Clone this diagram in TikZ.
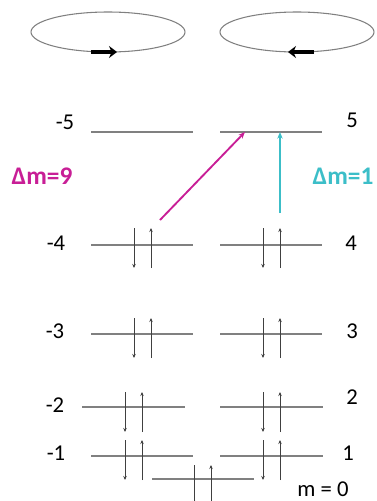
\documentclass[tikz,border=0pt]{standalone}
\usepackage{fontspec}
\setmainfont{Carlito}
\usetikzlibrary{arrows.meta}
\definecolor{magline}{RGB}{200,30,150}
\definecolor{cyanline}{RGB}{60,190,200}
\tikzset{level/.style={draw=gray,line width=.9pt},
  spin/.style={draw=black!75,line width=.6pt,-{Stealth[length=3pt,width=2.6pt]}},
  lab/.style={font=\fontsize{17}{20}\selectfont,inner sep=0pt},
  dlab/.style={font=\fontsize{19}{22}\selectfont\bfseries,inner sep=0pt}}

\begin{document}
\begin{tikzpicture}[x=.75pt,y=-.75pt,line width=.35pt]
\useasboundingbox (0,0) rectangle (376,501);
% orbits
\draw[gray,line width=.8pt] (108,32) ellipse [x radius=77,y radius=20];
\draw[gray,line width=.8pt] (297,32) ellipse [x radius=77,y radius=20];
\coordinate (o1a) at (91,52);\coordinate (o1b) at (117,52);
\coordinate (o2a) at (314,52);\coordinate (o2b) at (288,52);
\draw[line width=2.6pt,-{Stealth[length=6pt,width=9pt]}] (o1a)--(o1b);
\draw[line width=2.6pt,-{Stealth[length=6pt,width=9pt]}] (o2a)--(o2b);
% levels
\coordinate (L5a) at (91,132);\coordinate (L5b) at (193,132);\coordinate (R5a) at (220,132);\coordinate (R5b) at (322,132);
\coordinate (L4a) at (91,245);\coordinate (L4b) at (193,245);\coordinate (R4a) at (220,245);\coordinate (R4b) at (322,245);
\coordinate (L3a) at (91,334);\coordinate (L3b) at (193,334);\coordinate (R3a) at (220,334);\coordinate (R3b) at (322,334);
\coordinate (L2a) at (82,407);\coordinate (L2b) at (185,407);\coordinate (R2a) at (220,407);\coordinate (R2b) at (323,407);
\coordinate (L1a) at (91,456);\coordinate (L1b) at (193,456);\coordinate (R1a) at (220,456);\coordinate (R1b) at (323,456);
\coordinate (M0a) at (152,479);\coordinate (M0b) at (254,479);
\draw[level] (L5a)--(L5b);\draw[level] (R5a)--(R5b);
\draw[level] (L4a)--(L4b);\draw[level] (R4a)--(R4b);
\draw[level] (L3a)--(L3b);\draw[level] (R3a)--(R3b);
\draw[level] (L2a)--(L2b);\draw[level] (R2a)--(R2b);
\draw[level] (L1a)--(L1b);\draw[level] (R1a)--(R1b);
\draw[level] (M0a)--(M0b);
% electron pairs
\foreach \x/\y in {134/228,263/228,134/318,263/318,125/392,263/392,125/440,263/440,194/465}
  {\draw[spin] (\x,\y)--(\x,\y+40); \draw[spin] (\x+17,\y+40)--(\x+17,\y);}
% transitions
\coordinate (d9a) at (160,220);\coordinate (d9b) at (245,132);
\coordinate (d1a) at (280,213);\coordinate (d1b) at (280,132);
\draw[magline,line width=1.4pt,-{Stealth[length=5pt,width=4pt]}] (d9a)--(d9b);
\draw[cyanline,line width=1.3pt,-{Stealth[length=5pt,width=4pt]}] (d1a)--(d1b);
% labels
\node[lab] (nm5) at (65,122) {-5};\node[lab] (np5) at (352,120) {5};
\node[lab] (nm4) at (56,243) {-4};\node[lab] (np4) at (351,243) {4};
\node[lab] (nm3) at (55,331) {-3};\node[lab] (np3) at (352,331) {3};
\node[lab] (nm2) at (55,405) {-2};\node[lab] (np2) at (352,397) {2};
\node[lab] (nm1) at (56,453) {-1};\node[lab] (np1) at (348,453) {1};
\node[lab] (m0) at (323,489) {m = 0};
\node[dlab,text=magline] (dm9) at (42,176) {Δm=9};
\node[dlab,text=cyanline] (dm1) at (343,176) {Δm=1};
\end{tikzpicture}
\end{document}
